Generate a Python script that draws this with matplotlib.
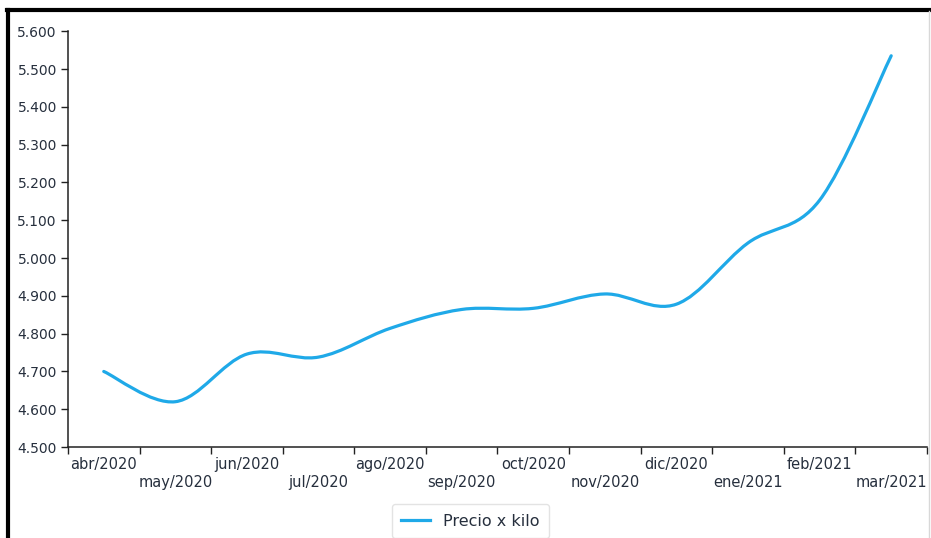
import matplotlib
matplotlib.use("Agg")
import matplotlib.pyplot as plt
from matplotlib.path import Path
from matplotlib.patches import PathPatch
from matplotlib.lines import Line2D
from matplotlib.ticker import FuncFormatter, FixedLocator

# Precio promedio por kilo, abril 2020 - marzo 2021
meses = ["abr/2020", "may/2020", "jun/2020", "jul/2020", "ago/2020", "sep/2020",
         "oct/2020", "nov/2020", "dic/2020", "ene/2021", "feb/2021", "mar/2021"]
precios = [4700, 4620, 4746, 4738, 4814, 4864, 4867, 4905, 4878, 5040, 5153, 5535]

color_linea = "#1fa9e8"
color_texto = "#262f3d"
tension = 0.17


def curva_suave(xs, ys, t):
    # cubic bezier through every point (cardinal spline)
    n = len(xs)
    verts = [(xs[0], ys[0])]
    codes = [Path.MOVETO]
    for i in range(n - 1):
        x0, y0 = xs[max(i - 1, 0)], ys[max(i - 1, 0)]
        x1, y1 = xs[i], ys[i]
        x2, y2 = xs[i + 1], ys[i + 1]
        x3, y3 = xs[min(i + 2, n - 1)], ys[min(i + 2, n - 1)]
        c1 = (x1 + t * (x2 - x0), y1 + t * (y2 - y0))
        c2 = (x2 - t * (x3 - x1), y2 - t * (y3 - y1))
        verts += [c1, c2, (x2, y2)]
        codes += [Path.CURVE4] * 3
    return Path(verts, codes)


plt.rcParams["font.family"] = ["DejaVu Sans"]
fig = plt.figure(figsize=(9.31, 5.38), dpi=100)
ax = fig.add_axes([0.073, 0.169, 0.9227, 0.773])

x = list(range(len(meses)))
ax.add_patch(PathPatch(curva_suave(x, precios, tension), fill=False,
                       edgecolor=color_linea, lw=2.3, capstyle="round"))

ax.set_xlim(-0.5, len(meses) - 0.5)
ax.set_ylim(4500, 5600)
ax.set_yticks(range(4500, 5601, 100))
ax.yaxis.set_major_formatter(FuncFormatter(lambda v, p: f"{v / 1000:.3f}"))

# ticks at the month boundaries, labels centred on each month
ax.xaxis.set_major_locator(FixedLocator([i + 0.5 for i in range(-1, len(meses))]))
ax.xaxis.set_major_formatter(FuncFormatter(lambda v, p: ""))
ax.set_xticks(x, minor=True)
ax.set_xticklabels(meses, minor=True)
ax.tick_params(axis="x", which="major", length=5, width=1, color="#222222")
ax.tick_params(axis="x", which="minor", length=0, pad=7, labelsize=10.5,
               labelcolor=color_texto)
for i, tick in enumerate(ax.xaxis.get_minor_ticks()):
    if i % 2:
        tick.set_pad(20)
ax.tick_params(axis="y", length=5, width=1, color="#222222", labelsize=10,
               labelcolor=color_texto, pad=3)

for lado in ("top", "right"):
    ax.spines[lado].set_visible(False)
for lado in ("left", "bottom"):
    ax.spines[lado].set_color("#222222")
    ax.spines[lado].set_linewidth(1.1)

proxy = Line2D([], [], color=color_linea, lw=2.3)
fig.legend([proxy], ["Precio x kilo"], loc="upper center",
           bbox_to_anchor=(0.505, 0.078), frameon=True, fontsize=11.5,
           edgecolor="#dddddd", fancybox=True, handlelength=1.8,
           borderpad=0.6, labelcolor=color_texto)

# marco negro de la imagen
fig.add_artist(Line2D([0.0085, 0.0085], [0, 0.982], color="black", lw=3,
                      transform=fig.transFigure))
fig.add_artist(Line2D([0.007, 1.0], [0.981, 0.981], color="black", lw=3,
                      transform=fig.transFigure))
fig.add_artist(Line2D([0.998, 0.998], [0, 0.98], color="#d8d8d8", lw=1,
                      transform=fig.transFigure))

fig.savefig("out.png", dpi=100)
